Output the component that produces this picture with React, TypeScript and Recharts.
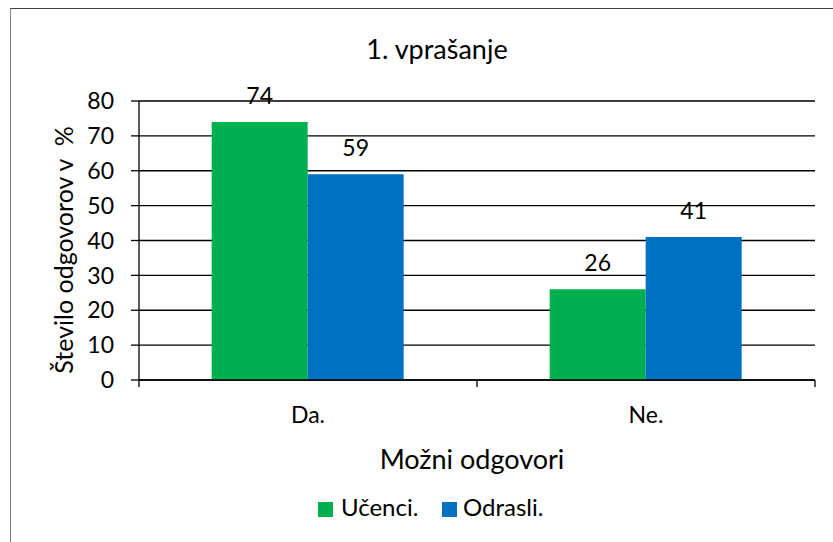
import React from 'react';
import { BarChart, Bar, XAxis, YAxis, CartesianGrid, LabelList } from 'recharts';

const categories = ['Da.', 'Ne.'];
const ucenci = [74, 26];
const odrasli = [59, 41];
const yTicks = [0, 10, 20, 30, 40, 50, 60, 70, 80];
const seriesNames = ['Učenci.', 'Odrasli.'];
const title = '1. vprašanje';
const xTitle = 'Možni odgovori';
const yTitle = 'Število odgovorov v  %';

const data = categories.map((c, i) => ({ name: c, ucenci: ucenci[i], odrasli: odrasli[i] }));

const FONT = 'Lato, "Open Sans", sans-serif';
const GREEN = '#00B050';
const BLUE = '#0070C0';

const CategoryTick = (props: any) => {
  const { x, y, payload, width, visibleTicksCount, index } = props;
  const band = width / visibleTicksCount;
  const left = x - band / 2;
  const right = x + band / 2;
  const isLast = index === visibleTicksCount - 1;
  return (
    <g>
      <line x1={left} x2={left} y1={y} y2={y + 7} stroke="#000" strokeWidth={1.3} />
      {isLast && <line x1={right} x2={right} y1={y} y2={y + 7} stroke="#000" strokeWidth={1.3} />}
      <text x={x} y={y + 43} textAnchor="middle" fill="#000" fontSize={23} fontFamily={FONT}>
        {payload.value}
      </text>
    </g>
  );
};

export default function App() {
  return (
    <div style={{ position: 'absolute', left: 0, top: 0, width: 833, height: 542, overflow: 'hidden', background: '#fff', fontFamily: FONT }}>
      <div style={{ position: 'absolute', left: 10, top: 8, width: 840, height: 560, borderLeft: '1px solid #7f7f7f', borderTop: '1px solid #404040' }} />
      <div style={{ position: 'absolute', left: 0, top: 0 }}>
        <BarChart
          width={833}
          height={542}
          data={data}
          margin={{ top: 101, right: 18, bottom: 102, left: 0 }}
          barCategoryGap="21.5%"
          barGap={0}
        >
          <CartesianGrid vertical={false} stroke="#000" strokeWidth={1.4} />
          <XAxis
            dataKey="name"
            height={60}
            axisLine={{ stroke: '#000', strokeWidth: 1.4 }}
            tickLine={false}
            tickSize={0}
            tickMargin={0}
            interval={0}
            tick={<CategoryTick />}
          />
          <YAxis
            width={139}
            domain={[0, 80]}
            ticks={yTicks}
            interval={0}
            axisLine={{ stroke: '#000', strokeWidth: 1.3 }}
            tickLine={{ stroke: '#000', strokeWidth: 1.3 }}
            tickSize={8}
            tickMargin={17}
            tick={{ fill: '#000', fontSize: 23, fontFamily: FONT }}
          />
          <Bar dataKey="ucenci" fill={GREEN} isAnimationActive={false}>
            <LabelList dataKey="ucenci" position="top" offset={18} style={{ fill: '#000', fontSize: 23, fontFamily: FONT }} />
          </Bar>
          <Bar dataKey="odrasli" fill={BLUE} isAnimationActive={false}>
            <LabelList dataKey="odrasli" position="top" offset={18} style={{ fill: '#000', fontSize: 23, fontFamily: FONT }} />
          </Bar>
        </BarChart>
      </div>
      <svg width={833} height={542} style={{ position: 'absolute', left: 0, top: 0, pointerEvents: 'none' }} fontFamily={FONT}>
        <text x={437} y={59} textAnchor="middle" fontSize={27} fill="#000">{title}</text>
        <text x={472} y={469} textAnchor="middle" fontSize={27} fill="#000">{xTitle}</text>
        <text transform="translate(73,250) rotate(-90)" textAnchor="middle" fontSize={25} fill="#000" style={{ whiteSpace: 'pre' }}>{yTitle}</text>
        <rect x={318} y={502} width={15} height={15} fill={GREEN} />
        <text x={341} y={516} fontSize={24} fill="#000">{seriesNames[0]}</text>
        <rect x={442} y={502} width={15} height={15} fill={BLUE} />
        <text x={463} y={516} fontSize={24} fill="#000">{seriesNames[1]}</text>
      </svg>
    </div>
  );
}
